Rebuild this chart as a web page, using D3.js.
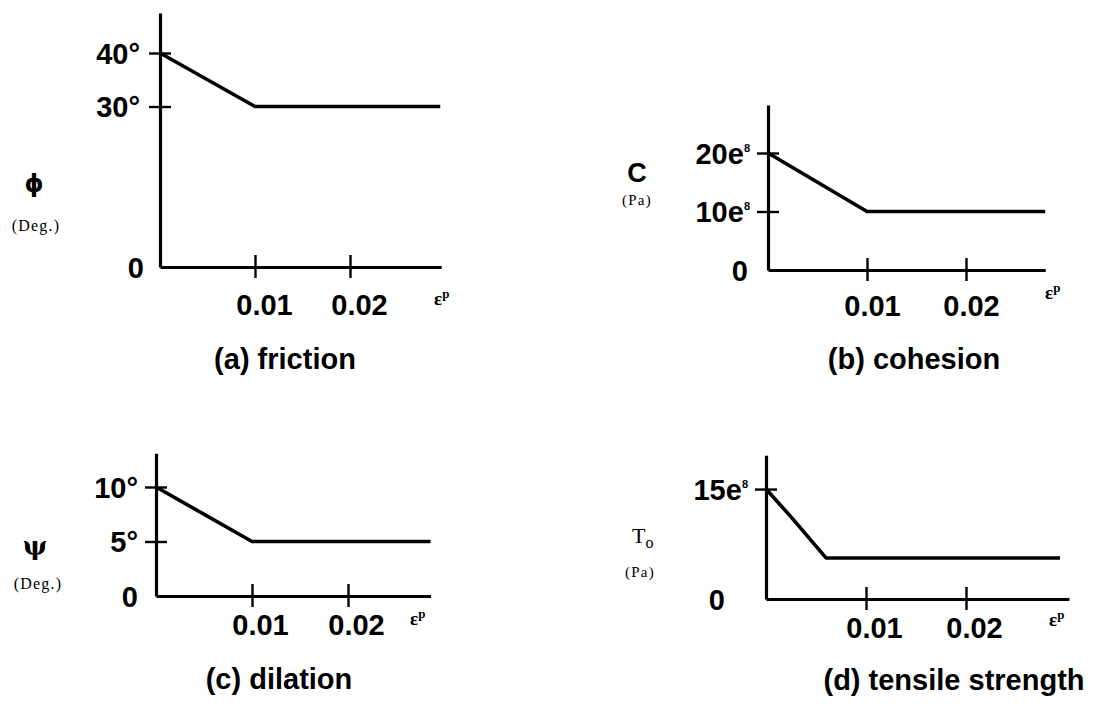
<!DOCTYPE html>
<html><head><meta charset="utf-8">
<script src="https://cdn.jsdelivr.net/npm/d3@7"></script>
<style>body{margin:0;background:#fff}svg{display:block}</style>
</head><body>
<svg id="chart" width="1113" height="704"></svg>
<script>
// ---------- data ----------
const strainTicks = [0.01, 0.02];
const strainTickLabels = ["0.01", "0.02"];

const frictionStrain = [0, 0.01, 0.0295];
const frictionDeg = [40, 30, 30];
const frictionTicks = [0, 30, 40];
const frictionTickLabels = ["0", "30°", "40°"];

const cohesionStrain = [0, 0.01, 0.028];
const cohesionPa = [20, 10, 10];          // in units of 1e8 Pa
const cohesionTicks = [0, 10, 20];
const cohesionTickLabels = ["0", "10e", "20e"];
const cohesionTickSup = ["", "8", "8"];

const dilationStrain = [0, 0.01, 0.0286];
const dilationDeg = [10, 5, 5];
const dilationTicks = [0, 5, 10];
const dilationTickLabels = ["0", "5°", "10°"];

const tensileStrain = [0, 0.0025, 0.006, 0.0294];
const tensilePa = [15, 11.2, 5.6, 5.6];   // in units of 1e8 Pa
const tensileTicks = [0, 15];
const tensileTickLabels = ["0", "15e"];
const tensileTickSup = ["", "8"];

const captions = ["(a) friction", "(b) cohesion", "(c) dilation", "(d) tensile strength"];

// ---------- layout ----------
const panels = [
  {xs: frictionStrain, ys: frictionDeg, yt: frictionTicks, yl: frictionTickLabels, ysup: null,
   ox:160, oy:267, kx:95, ky:5.35, xMax:0.0296, yMax:47.5, gap:20, zeroGap:16,
   xLabY:48, xLabDx:9, eps:[434,305], cap:[285,369], sym:"phi", symPos:[34,192], unitPos:[36,231], unit:"(Deg.)"},
  {xs: cohesionStrain, ys: cohesionPa, yt: cohesionTicks, yl: cohesionTickLabels, ysup: cohesionTickSup,
   ox:768, oy:270, kx:99, ky:5.85, xMax:0.028, yMax:28.2, gap:18, zeroGap:20,
   xLabY:46, xLabDx:5, eps:[1045,299], cap:[914,369], sym:"C", symPos:[637,182], unitPos:[637,205], unit:"(Pa)"},
  {xs: dilationStrain, ys: dilationDeg, yt: dilationTicks, yl: dilationTickLabels, ysup: null,
   ox:156, oy:596, kx:96, ky:10.9, xMax:0.0286, yMax:13.1, gap:18, zeroGap:18,
   xLabY:39, xLabDx:8, eps:[410,625], cap:[279,689], sym:"psi", symPos:[35,555], unitPos:[38,589], unit:"(Deg.)"},
  {xs: tensileStrain, ys: tensilePa, yt: tensileTicks, yl: tensileTickLabels, ysup: tensileTickSup,
   ox:766, oy:599, kx:100, ky:7.33, xMax:0.0303, yMax:19.6, gap:18, zeroGap:41,
   xLabY:39, xLabDx:8, eps:[1049,626], cap:[954,690], sym:"To", symPos:[632,543], unitPos:[640,577], unit:"(Pa)"}
];

const svg = d3.select("#chart");
const SANS = "'Liberation Sans', Arial, Helvetica, sans-serif";
const SERIF = "'Liberation Serif', 'Times New Roman', serif";

panels.forEach((p, pi) => {
  const x = d3.scaleLinear().domain([0, p.xMax]).range([p.ox, p.ox + p.xMax * 100 * p.kx]);
  const y = d3.scaleLinear().domain([0, p.yMax]).range([p.oy, p.oy - p.yMax * p.ky]);
  const g = svg.append("g");

  // x axis
  const gx = g.append("g").attr("transform", `translate(0,${p.oy})`)
    .call(d3.axisBottom(x).tickValues(strainTicks).tickSizeOuter(0).tickSizeInner(11)
      .tickFormat((d, i) => strainTickLabels[i]));
  gx.select(".domain").attr("stroke", "#000").attr("stroke-width", 3.2);
  gx.selectAll(".tick line").attr("y1", -12).attr("y2", 11).attr("stroke", "#000").attr("stroke-width", 2.4);
  gx.selectAll(".tick text").attr("y", p.xLabY).attr("dy", 0).attr("dx", p.xLabDx)
    .attr("font-family", SANS).attr("font-weight", "bold").attr("font-size", 29).attr("fill", "#000");

  // y axis
  const gy = g.append("g").attr("transform", `translate(${p.ox},0)`)
    .call(d3.axisLeft(y).tickValues(p.yt).tickSizeOuter(0).tickSizeInner(11)
      .tickFormat((d, i) => p.yl[i]));
  gy.select(".domain").attr("stroke", "#000").attr("stroke-width", 3.2);
  gy.selectAll(".tick line").attr("x1", 11).attr("stroke", "#000").attr("stroke-width", 2.4)
    .attr("display", d => d === 0 ? "none" : null);
  gy.selectAll(".tick text")
    .attr("x", d => d === 0 ? -p.zeroGap : -p.gap).attr("dy", "0.36em")
    .attr("font-family", SANS).attr("font-weight", "bold").attr("font-size", 29).attr("fill", "#000")
    .each(function(d, i) {
      if (p.ysup && p.ysup[i]) {
        d3.select(this).append("tspan").attr("font-size", 11).attr("dy", "-1.1em").text(p.ysup[i]);
      }
    });

  // data line
  const pts = p.xs.map((v, i) => [v, p.ys[i]]);
  g.append("path").datum(pts)
    .attr("d", d3.line().x(d => x(d[0])).y(d => y(d[1])))
    .attr("fill", "none").attr("stroke", "#000").attr("stroke-width", 3.6)
    .attr("stroke-linejoin", "round");

  // epsilon^p
  const e = g.append("text").attr("x", p.eps[0]).attr("y", p.eps[1])
    .attr("font-family", SERIF).attr("font-size", 19).attr("font-weight", "bold");
  e.append("tspan").text("ε");
  e.append("tspan").attr("font-size", 13).attr("dy", -7).text("p");

  // caption
  g.append("text").attr("x", p.cap[0]).attr("y", p.cap[1]).attr("text-anchor", "middle")
    .attr("font-family", SANS).attr("font-weight", "bold").attr("font-size", 29).text(captions[pi]);

  // axis symbol
  if (p.sym === "phi") {
    g.append("text").attr("x", p.symPos[0]).attr("y", p.symPos[1]).attr("text-anchor", "middle")
      .attr("font-family", "'DejaVu Sans', sans-serif").attr("font-weight", "bold").attr("font-size", 24).text("ϕ");
  } else if (p.sym === "psi") {
    g.append("text").attr("x", p.symPos[0]).attr("y", p.symPos[1]).attr("text-anchor", "middle")
      .attr("font-family", "'DejaVu Serif', serif").attr("font-weight", "bold").attr("font-size", 26).text("ψ");
  } else if (p.sym === "C") {
    g.append("text").attr("x", p.symPos[0]).attr("y", p.symPos[1]).attr("text-anchor", "middle")
      .attr("font-family", SANS).attr("font-weight", "bold").attr("font-size", 27).text("C");
  } else {
    const t = g.append("text").attr("x", p.symPos[0]).attr("y", p.symPos[1])
      .attr("font-family", SERIF).attr("font-size", 22);
    t.append("tspan").text("T");
    t.append("tspan").attr("font-size", 16).attr("dy", 5).text("o");
  }
  g.append("text").attr("x", p.unitPos[0]).attr("y", p.unitPos[1]).attr("text-anchor", "middle")
    .attr("font-family", SERIF).attr("font-size", p.unit === "(Deg.)" ? 16 : 15)
    .attr("letter-spacing", 1.2).text(p.unit);
});
</script>
</body></html>
